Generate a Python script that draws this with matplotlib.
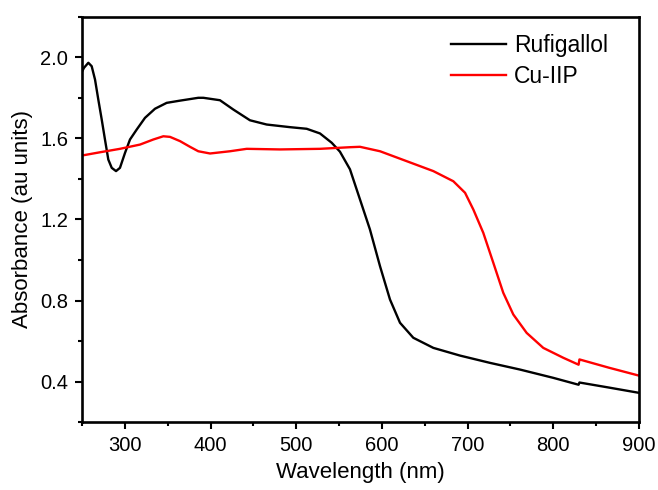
import numpy as np
import matplotlib
matplotlib.use("Agg")
import matplotlib.pyplot as plt
from matplotlib.ticker import MultipleLocator

plt.rcParams['font.family'] = ['Liberation Sans', 'DejaVu Sans']

# values (wavelength nm, absorbance)
rufigallol_wl = [250, 252.3, 257.4, 261.3, 265.2, 269, 273, 276.8, 280.7, 284.7, 289.7, 294.3,
                 300.2, 306, 313.8, 323.5, 335.2, 348.8, 364.4, 385.7, 391.6, 411, 426.6, 446,
                 465.5, 492.7, 512.2, 527.7, 541.4, 551, 562.7, 574.4, 586, 597.8, 609.4,
                 621.1, 636.6, 660, 691.1, 726.1, 761.1, 800, 829.5, 830.5, 865, 900]
rufigallol_abs = [1.93, 1.949, 1.974, 1.957, 1.891, 1.793, 1.694, 1.595, 1.496, 1.455, 1.439, 1.455,
                  1.529, 1.595, 1.644, 1.702, 1.747, 1.776, 1.787, 1.801, 1.801, 1.789, 1.743, 1.690,
                  1.669, 1.656, 1.648, 1.625, 1.579, 1.535, 1.448, 1.299, 1.151, 0.969, 0.805,
                  0.690, 0.616, 0.566, 0.528, 0.492, 0.459, 0.418, 0.384, 0.395, 0.370, 0.344]

cu_wl = [250, 271, 294.3, 317.7, 333.2, 344.9, 352.7, 364.4, 376, 385.7, 399.4, 422.7, 442.2,
         481, 527.7, 562.7, 574.4, 597.8, 628.9, 660, 683.3, 697, 706.7, 718.3, 730, 741.6,
         753.3, 768.9, 788.3, 811.7, 829.5, 830.5, 865, 900]
cu_abs = [1.516, 1.532, 1.549, 1.570, 1.595, 1.611, 1.608, 1.587, 1.559, 1.537, 1.526, 1.537, 1.549,
          1.546, 1.549, 1.557, 1.559, 1.537, 1.488, 1.439, 1.389, 1.332, 1.249, 1.134, 0.986, 0.838,
          0.731, 0.640, 0.566, 0.517, 0.483, 0.509, 0.468, 0.429]

fig = plt.figure(figsize=(6.58, 4.90), dpi=100)
ax = fig.add_axes([82/658, 1-422/490, (639-82)/658, (422-17)/490])

ax.plot(rufigallol_wl, rufigallol_abs, color='black', lw=1.7, label='Rufigallol')
ax.plot(cu_wl, cu_abs, color='#ff0000', lw=1.7, label='Cu-IIP')

ax.set_xlim(250, 900)
ax.set_ylim(0.2, 2.2)
ax.xaxis.set_major_locator(MultipleLocator(100))
ax.xaxis.set_minor_locator(MultipleLocator(50))
ax.yaxis.set_minor_locator(MultipleLocator(0.2))
ax.set_yticks([0.4, 0.8, 1.2, 1.6, 2.0])
ax.set_yticklabels(['0.4', '0.8', '1.2', '1.6', '2.0'])

for s in ax.spines.values():
    s.set_linewidth(1.9)
ax.tick_params(which='major', direction='out', length=5, width=1.5, labelsize=14.5, pad=5)
ax.tick_params(which='minor', direction='out', length=3, width=1.5)

ax.set_xlabel('Wavelength (nm)', fontsize=16, labelpad=5)
ax.set_ylabel('Absorbance (au units)', fontsize=16, labelpad=5)

ax.legend(loc='upper left', bbox_to_anchor=(0.662, 0.958), frameon=False, fontsize=16.5,
          handlelength=2.4, handletextpad=0.35, labelspacing=0.35, borderpad=0, borderaxespad=0)

fig.savefig('out.png', dpi=100)
